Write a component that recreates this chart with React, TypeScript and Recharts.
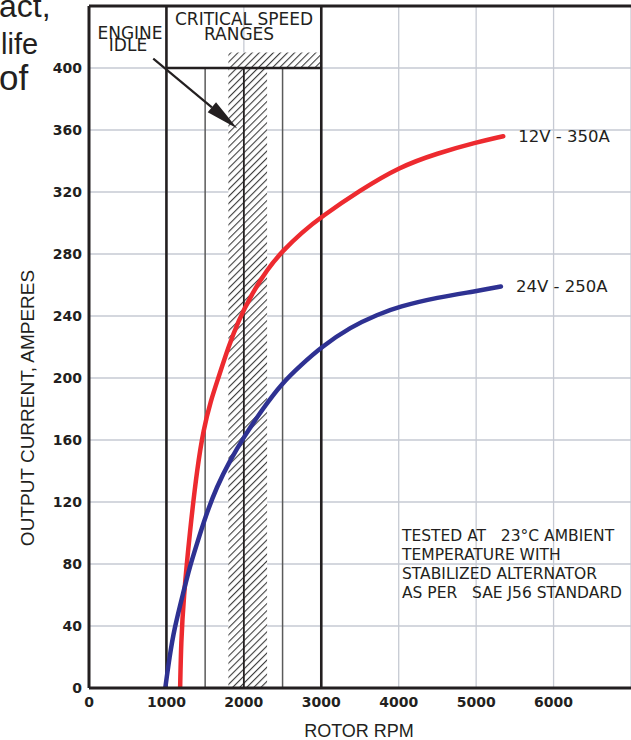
import React from "react";
import {
  LineChart,
  Line,
  XAxis,
  YAxis,
  CartesianGrid,
  ReferenceLine,
  ReferenceArea,
  ReferenceDot,
} from "recharts";

// 12V - 350A curve (rotor rpm / output amps)
const rpm12 = [1177, 1190, 1220, 1300, 1400, 1480, 1570, 1670, 1800, 1930, 2100, 2300, 2500, 2750, 3000, 3500, 4000, 4500, 5000, 5350];
const amps12 = [0, 30, 57, 100, 143, 167, 185, 200, 220, 237, 254, 270, 282, 294, 304, 321, 336, 345, 352, 356];

// 24V - 250A curve
const rpm24 = [985, 1040, 1100, 1220, 1300, 1400, 1500, 1650, 1824, 2000, 2255, 2500, 2730, 3000, 3380, 3730, 4000, 4500, 5000, 5320];
const amps24 = [0, 20, 38, 62, 78, 94, 110, 130, 147, 162, 181, 197, 208, 220, 233, 241, 246, 252, 256, 259];

const xTicks = [0, 1000, 2000, 3000, 4000, 5000, 6000];
const yTicks = [0, 40, 80, 120, 160, 200, 240, 280, 320, 360, 400];

const engineIdle = { from: 830, fromAmps: 406, to: 1915, toAmps: 361 };
const criticalBand = { lo: 1800, hi: 2300, top: 410 };
const innerLines = [1500, 2000, 2500];

const series12 = rpm12.map((r, i) => ({ rpm: r, amps: amps12[i] }));
const series24 = rpm24.map((r, i) => ({ rpm: r, amps: amps24[i] }));

const INK = "#231f20";
const GRID = "#c6cad3";
const SANS = "'DejaVu Sans', Verdana, sans-serif";
const ARIAL = "'Liberation Sans', Arial, sans-serif";
const NB = "\u00a0";

const Arrow = (p: any) => {
  const { x1, y1, x2, y2 } = p;
  const dx = x2 - x1;
  const dy = y2 - y1;
  const len = Math.sqrt(dx * dx + dy * dy);
  const ux = dx / len;
  const uy = dy / len;
  const hl = 33;
  const hw = 6.5;
  const bx = x2 - ux * hl;
  const by = y2 - uy * hl;
  const pts = `${x2},${y2} ${bx - uy * hw},${by + ux * hw} ${bx + uy * hw},${by - ux * hw}`;
  return (
    <g>
      <line x1={x1} y1={y1} x2={bx} y2={by} stroke={INK} strokeWidth={2.2} />
      <polygon points={pts} fill={INK} />
    </g>
  );
};

export default function App() {
  return (
    <div style={{ position: "absolute", left: 0, top: 0, width: 631, height: 740, background: "#fff" }}>
      <svg width={0} height={0} style={{ position: "absolute" }}>
        <defs>
          <pattern id="hatch" patternUnits="userSpaceOnUse" width={5} height={5} patternTransform="rotate(45)">
            <rect x={0} y={0} width={5} height={5} fill="#fff" />
            <line x1={0.6} y1={0} x2={0.6} y2={5} stroke="#111" strokeWidth={0.9} />
          </pattern>
        </defs>
      </svg>
      <LineChart width={631} height={740} margin={{ top: 6, right: 0, bottom: 0, left: 0 }}>
        <CartesianGrid stroke={GRID} strokeWidth={1.3} />
        <XAxis
          type="number"
          dataKey="rpm"
          domain={[0, 7000]}
          ticks={xTicks}
          allowDataOverflow
          height={52}
          tickSize={0}
          tickMargin={9}
          axisLine={{ stroke: INK, strokeWidth: 3 }}
          tick={{ fill: INK, fontSize: 14, fontWeight: 700, fontFamily: SANS }}
        />
        <YAxis
          type="number"
          dataKey="amps"
          domain={[0, 440]}
          ticks={yTicks}
          allowDataOverflow
          width={89}
          tickSize={0}
          tickMargin={7}
          axisLine={{ stroke: INK, strokeWidth: 3 }}
          tick={{ fill: INK, fontSize: 14, fontWeight: 700, fontFamily: SANS }}
        />
        <ReferenceArea x1={criticalBand.lo} x2={criticalBand.hi} y1={0} y2={400} fill="url(#hatch)" fillOpacity={1} stroke="none" />
        <ReferenceArea x1={criticalBand.lo} x2={3000} y1={400} y2={criticalBand.top} fill="url(#hatch)" fillOpacity={1} stroke="none" />
        {innerLines.map((v) => (
          <ReferenceLine
            key={v}
            segment={[{ x: v, y: 0 }, { x: v, y: 400 }]}
            stroke={v === 2000 ? INK : "#5a5a5a"}
            strokeWidth={v === 2000 ? 1.8 : 1.5}
          />
        ))}
        <ReferenceLine x={1000} stroke={INK} strokeWidth={2.6} />
        <ReferenceLine x={3000} stroke={INK} strokeWidth={2.6} />
        <ReferenceLine segment={[{ x: 1000, y: 400 }, { x: 3000, y: 400 }]} stroke={INK} strokeWidth={2.6} />
        <ReferenceLine y={440} stroke={INK} strokeWidth={3} />
        <ReferenceLine
          segment={[{ x: engineIdle.from, y: engineIdle.fromAmps }, { x: engineIdle.to, y: engineIdle.toAmps }]}
          shape={Arrow}
        />
        <Line
          data={series12}
          dataKey="amps"
          type="basis"
          stroke="#ed2a2f"
          strokeWidth={4.5}
          strokeLinecap="round"
          dot={false}
          isAnimationActive={false}
        />
        <Line
          data={series24}
          dataKey="amps"
          type="basis"
          stroke="#2e3192"
          strokeWidth={4.5}
          strokeLinecap="round"
          dot={false}
          isAnimationActive={false}
        />
        <ReferenceDot
          x={rpm12[rpm12.length - 1]}
          y={amps12[amps12.length - 1]}
          r={0}
          stroke="none"
          label={{ value: "12V - 350A", position: "right", offset: 15, fill: INK, fontSize: 16.5, fontFamily: SANS }}
        />
        <ReferenceDot
          x={rpm24[rpm24.length - 1]}
          y={amps24[amps24.length - 1]}
          r={0}
          stroke="none"
          label={{ value: "24V - 250A", position: "right", offset: 15, fill: INK, fontSize: 16.5, fontFamily: SANS }}
        />
      </LineChart>
      <svg
        width={631}
        height={740}
        style={{ position: "absolute", left: 0, top: 0, pointerEvents: "none" }}
      >
        <g fontFamily={ARIAL} fill={INK}>
          <text x={-1} y={17} fontSize={32}>act,</text>
          <text x={1} y={54} fontSize={29}>life</text>
          <text x={-1} y={90} fontSize={35}>of</text>
        </g>
        <g fontFamily={SANS} fontSize={17} fill={INK} textAnchor="middle">
          <text x={130} y={39}>ENGINE</text>
          <text x={128} y={51}>IDLE</text>
          <text x={244} y={25}>CRITICAL SPEED</text>
          <text x={239} y={40}>RANGES</text>
        </g>
        <g fontFamily={SANS} fontSize={15.5} fill={INK}>
          <text x={402} y={541}>{`TESTED AT${NB}${NB} 23°C AMBIENT`}</text>
          <text x={402} y={560}>TEMPERATURE WITH</text>
          <text x={402} y={579}>STABILIZED ALTERNATOR</text>
          <text x={402} y={598}>{`AS PER${NB}${NB} SAE J56 STANDARD`}</text>
        </g>
        <g fontFamily={ARIAL} fill={INK} textAnchor="middle">
          <text x={359} y={737} fontSize={18}>ROTOR RPM</text>
          <text x={27} y={414.5} fontSize={19} transform="rotate(-90, 27, 408)">OUTPUT CURRENT, AMPERES</text>
        </g>
      </svg>
    </div>
  );
}
